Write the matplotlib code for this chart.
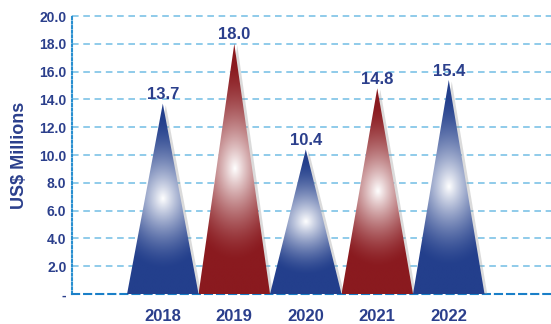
import numpy as np
import matplotlib
matplotlib.use("Agg")
import matplotlib.pyplot as plt
from matplotlib.patches import Polygon
import matplotlib.transforms as mtransforms
from matplotlib.colors import to_rgb

# Annual values (US$ Millions)
years = ["2018", "2019", "2020", "2021", "2022"]
values = [13.7, 18.0, 10.4, 14.8, 15.4]
bar_colors = ["#233f8c", "#8a1a1f", "#233f8c", "#8a1a1f", "#233f8c"]
y_ticks = [0, 2, 4, 6, 8, 10, 12, 14, 16, 18, 20]
y_tick_labels = ["-", "2.0", "4.0", "6.0", "8.0", "10.0", "12.0", "14.0", "16.0", "18.0", "20.0"]

navy = "#2b3f8c"
plt.rcParams["font.family"] = ["Liberation Sans", "DejaVu Sans"]

fig = plt.figure(figsize=(5.51, 3.24), dpi=100)
ax = fig.add_axes([0.1307, 0.0926, 0.8693, 0.858])
ax.set_xlim(-1.27, 5.43)
ax.set_ylim(0, 20)

# dashed horizontal grid
for t in y_ticks[1:]:
    ax.axhline(t, color="#8fcbea", lw=1.4, ls=(0, (3.4, 2.4)), zorder=0, clip_on=False)

half = 0.5


def shaded_pyramid(x, h, color):
    base = np.array(to_rgb(color))
    poly = [(x - half, 0), (x + half, 0), (x, h)]

    # soft drop shadow to the lower right
    shadow_tf = ax.transData + mtransforms.ScaledTranslation(3 / 100, -1.5 / 100, fig.dpi_scale_trans)
    ax.add_patch(Polygon(poly, closed=True, facecolor="#9a9a9a", edgecolor="none",
                         alpha=0.35, transform=shadow_tf, zorder=1))

    nx, ny = 160, 320
    xs = np.linspace(x - half, x + half, nx)
    ys = np.linspace(0, h, ny)
    X, Y = np.meshgrid(xs, ys)
    cy = 0.5 * h
    dx = (X - x) / 0.75
    ry = np.where(Y < cy, 0.37 * h, 0.42 * h)
    dy = (Y - cy) / ry
    t = np.clip(np.sqrt(dx ** 2 + dy ** 2), 0, 1)
    w = (1 - t) ** 1.5
    img = base[None, None, :] * (1 - w[..., None]) + w[..., None] * 1.0
    im = ax.imshow(img, extent=[x - half, x + half, 0, h], origin="lower",
                   aspect="auto", interpolation="bilinear", zorder=2)
    clip = Polygon(poly, closed=True, facecolor="none", edgecolor="none", transform=ax.transData)
    ax.add_patch(clip)
    im.set_clip_path(clip)


for i, (v, c) in enumerate(zip(values, bar_colors)):
    shaded_pyramid(i, v, c)
    ax.annotate(f"{v:.1f}", (i, v), xytext=(0, 1), textcoords="offset points",
                ha="center", va="bottom", fontsize=12, fontweight="bold", color=navy, zorder=4)

ax.set_xlim(-1.27, 5.43)
ax.set_ylim(0, 20)

for s in ["top", "right"]:
    ax.spines[s].set_visible(False)
ax.spines["left"].set_color("#2a8fd0")
ax.spines["left"].set_linestyle((0, (1, 1.2)))
ax.spines["left"].set_linewidth(1.5)
ax.spines["bottom"].set_color("#1a7fc8")
ax.spines["bottom"].set_linestyle((0, (3.4, 2.4)))
ax.spines["bottom"].set_linewidth(1.5)
ax.spines["left"].set_zorder(0)
ax.spines["bottom"].set_zorder(0)

ax.set_yticks(y_ticks)
ax.set_yticklabels(y_tick_labels)
ax.set_xticks(range(len(years)))
ax.set_xticklabels(years)
ax.tick_params(axis="y", length=0, pad=4, labelsize=10, labelcolor=navy)
ax.tick_params(axis="x", length=0, pad=11, labelsize=12, labelcolor=navy)
for lab in ax.get_xticklabels() + ax.get_yticklabels():
    lab.set_fontweight("bold")

ax.set_ylabel("US$ Millions", fontsize=13, fontweight="bold", color=navy)
ax.yaxis.label.set_va("center")
ax.yaxis.set_label_coords(-0.1086, 0.5)

fig.savefig("out.png", dpi=100)
